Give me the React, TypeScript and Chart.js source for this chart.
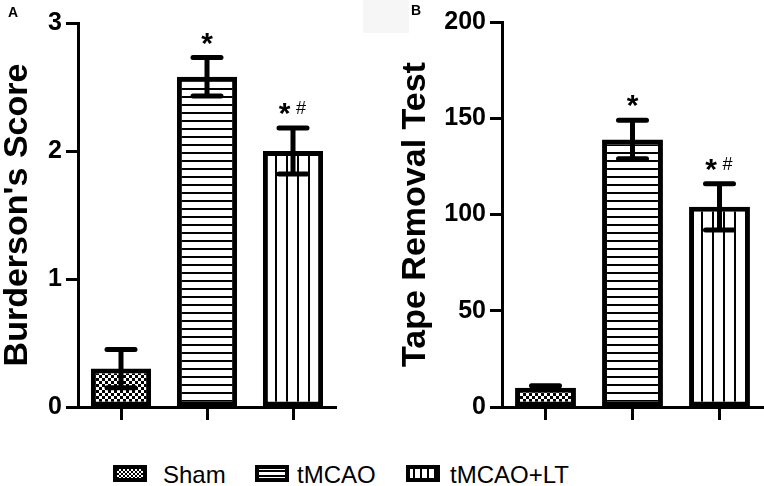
import React, { useEffect, useRef } from "react";
import { Chart, registerables } from "chart.js";

Chart.register(...registerables);

const categories = ["Sham", "tMCAO", "tMCAO+LT"];
const burdersonMeans = [0.3, 2.58, 2.0];
const burdersonSem = [0.15, 0.15, 0.18];
const tapeMeans = [10, 139, 104];
const tapeSem = [1, 10, 12];
const significance = ["", "*", "*#"];
const burdersonTicks = [0, 1, 2, 3];
const tapeTicks = [0, 50, 100, 150, 200];
const patternKinds = ["checker", "hstripe", "vstripe"];

const FONT = "'Liberation Sans', Arial, Helvetica, sans-serif";

function makePattern(ctx: CanvasRenderingContext2D, kind: string, small = false) {
  const c = document.createElement("canvas");
  let w = 6, h = 6;
  if (kind === "checker") { w = small ? 4 : 6; h = w; }
  else if (kind === "hstripe") { w = 8; h = small ? 5 : 8; }
  else { w = small ? 7 : 11; h = 8; }
  c.width = w; c.height = h;
  const g = c.getContext("2d")!;
  g.fillStyle = "#fff";
  g.fillRect(0, 0, w, h);
  g.fillStyle = "#000";
  if (kind === "checker") {
    const s = w / 2;
    g.fillRect(0, 0, s, s);
    g.fillRect(s, s, s, s);
  } else if (kind === "hstripe") {
    g.fillRect(0, 0, w, 2);
  } else {
    g.fillRect(0, 0, 2, h);
  }
  return ctx.createPattern(c, "repeat")!;
}

const errorBarPlugin = {
  id: "errorBars",
  afterDatasetsDraw(chart: any, _args: any, opts: any) {
    const { ctx } = chart;
    const meta = chart.getDatasetMeta(0);
    const ys = chart.scales.y;
    const ds = chart.data.datasets[0];
    const sems: number[] = opts.sem || [];
    const marks: string[] = opts.marks || [];
    ctx.save();
    ctx.strokeStyle = "#000";
    ctx.fillStyle = "#000";
    ctx.lineWidth = 5;
    ctx.lineCap = "round";
    meta.data.forEach((bar: any, i: number) => {
      const v = ds.data[i] as number;
      const e = sems[i];
      const x = bar.x;
      const yt = ys.getPixelForValue(v + e);
      const yb = ys.getPixelForValue(v - e);
      ctx.beginPath();
      ctx.moveTo(x, yt); ctx.lineTo(x, yb);
      ctx.moveTo(x - 14, yt); ctx.lineTo(x + 14, yt);
      ctx.moveTo(x - 14, yb); ctx.lineTo(x + 14, yb);
      ctx.stroke();
      const m = marks[i];
      if (m) {
        const starCenter = yt - 19;
        ctx.font = `bold 30px ${FONT}`;
        const mt = ctx.measureText("*");
        const base = starCenter + (mt.actualBoundingBoxAscent - mt.actualBoundingBoxDescent) / 2;
        ctx.textAlign = "center";
        ctx.textBaseline = "alphabetic";
        if (m === "*") {
          ctx.fillText("*", x, base);
        } else {
          ctx.fillText("*", x - 8.5, base);
          ctx.font = `18px ${FONT}`;
          ctx.fillText("#", x + 8, starCenter + 5);
        }
      }
    });
    ctx.restore();
  },
};

function makeConfig(
  canvas: HTMLCanvasElement,
  values: number[],
  sem: number[],
  ticks: number[],
  title: string,
  yWidth: number,
  titlePad: number,
  padding: any
): any {
  const ctx = canvas.getContext("2d")!;
  const patterns = patternKinds.map((k) => makePattern(ctx, k));
  return {
    type: "bar",
    data: {
      labels: categories,
      datasets: [
        {
          data: values,
          backgroundColor: patterns,
          borderColor: "#000",
          borderWidth: 5,
          borderSkipped: false,
          barPercentage: 0.7,
          categoryPercentage: 1,
        },
      ],
    },
    plugins: [errorBarPlugin],
    options: {
      animation: false,
      responsive: false,
      maintainAspectRatio: false,
      devicePixelRatio: 1,
      layout: { padding },
      plugins: {
        legend: { display: false },
        tooltip: { enabled: false },
        errorBars: { sem, marks: significance },
      },
      scales: {
        x: {
          grid: {
            display: true,
            drawOnChartArea: false,
            offset: false,
            tickLength: 13,
            tickWidth: 3,
            tickColor: "#000",
          },
          border: { display: true, color: "#000", width: 3 },
          ticks: { display: false },
          afterFit: (s: any) => { s.height = 13; },
        },
        y: {
          min: ticks[0],
          max: ticks[ticks.length - 1],
          afterBuildTicks: (s: any) => { s.ticks = ticks.map((v) => ({ value: v })); },
          ticks: {
            color: "#000",
            padding: 4,
            font: { family: FONT, size: 25, weight: "bold" },
          },
          grid: {
            drawOnChartArea: false,
            tickLength: 12,
            tickWidth: 3,
            tickColor: "#000",
          },
          border: { display: true, color: "#000", width: 3 },
          title: {
            display: true,
            text: title,
            color: "#000",
            font: { family: FONT, size: 34, weight: "bold", lineHeight: 1 },
            padding: { top: titlePad, bottom: 0 },
          },
          afterFit: (s: any) => { s.width = yWidth; },
        },
      },
    },
  };
}

function Swatch({ kind }: { kind: string }) {
  const ref = useRef<HTMLCanvasElement>(null);
  useEffect(() => {
    const c = ref.current!;
    const ctx = c.getContext("2d")!;
    ctx.fillStyle = makePattern(ctx, kind, true);
    ctx.fillRect(0, 0, 34, 17);
    ctx.strokeStyle = "#000";
    ctx.lineWidth = 4;
    ctx.strokeRect(2, 2, 30, 13);
  }, [kind]);
  return <canvas ref={ref} width={34} height={17} style={{ display: "block", width: 34, height: 17 }} />;
}

export default function App() {
  const refA = useRef<HTMLCanvasElement>(null);
  const refB = useRef<HTMLCanvasElement>(null);

  useEffect(() => {
    const a = new Chart(
      refA.current!,
      makeConfig(refA.current!, burdersonMeans, burdersonSem, burdersonTicks, "Burderson's Score", 78, 1,
        { top: 23, right: 34, bottom: 20, left: 0 })
    );
    const b = new Chart(
      refB.current!,
      makeConfig(refB.current!, tapeMeans, tapeSem, tapeTicks, "Tape Removal Test", 120, 17,
        { top: 22, right: 1, bottom: 20, left: 0 })
    );
    return () => { a.destroy(); b.destroy(); };
  }, []);

  const legendItems = [
    { kind: patternKinds[0], label: categories[0], sx: 113, tx: 163 },
    { kind: patternKinds[1], label: categories[1], sx: 255, tx: 297 },
    { kind: patternKinds[2], label: categories[2], sx: 406, tx: 450 },
  ];

  return (
    <div style={{ position: "fixed", left: 0, top: 0, width: 764, height: 486, background: "#fff", overflow: "hidden" }}>
      <div style={{ position: "absolute", left: 363, top: 0, width: 46, height: 33, background: "#f6f6f6" }} />
      <canvas ref={refA} width={370} height={440} style={{ position: "absolute", left: 0, top: 0, width: 370, height: 440 }} />
      <canvas ref={refB} width={382} height={440} style={{ position: "absolute", left: 382, top: 0, width: 382, height: 440 }} />
      <div style={{ position: "absolute", left: 8, top: 5, font: `bold 14px ${FONT}`, lineHeight: "14px", color: "#000" }}>A</div>
      <div style={{ position: "absolute", left: 411, top: 3, font: `bold 14px ${FONT}`, lineHeight: "14px", color: "#000" }}>B</div>
      {legendItems.map((it) => (
        <React.Fragment key={it.label}>
          <div style={{ position: "absolute", left: it.sx, top: 465 }}>
            <Swatch kind={it.kind} />
          </div>
          <div style={{ position: "absolute", left: it.tx, top: 463, font: `24px ${FONT}`, lineHeight: "24px", color: "#000", whiteSpace: "nowrap" }}>
            {it.label}
          </div>
        </React.Fragment>
      ))}
    </div>
  );
}
